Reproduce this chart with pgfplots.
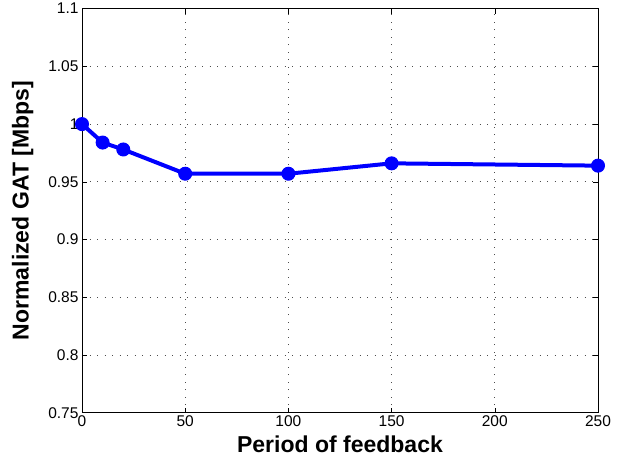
\documentclass[border=0pt]{standalone}
\usepackage{pgfplots}
\pgfplotsset{compat=1.18}
\usetikzlibrary{calc}
\usepackage{fontspec}
\setmainfont{Liberation Sans}
\definecolor{mblue}{RGB}{0,0,255}
\begin{document}
\begin{tikzpicture}
\begin{axis}[
  name=ax,
  scale only axis,
  width=516pt, height=404pt,
  xmin=0, xmax=250, ymin=0.75, ymax=1.1,
  xtick={0,50,100,150,200,250},
  ytick={0.75,0.8,0.85,0.9,0.95,1,1.05,1.1},
  yticklabels={0.75,0.8,0.85,0.9,0.95,1,1.05,1.1},
  tick align=inside,
  tick pos=both,
  major tick length=5pt,
  grid=major,
  major grid style={black!70, line width=0.9pt, dash pattern=on 1pt off 6.5pt},
  axis line style={black, line width=0.9pt},
  tick style={black, line width=0.6pt},
  /pgf/number format/assume math mode=true,
  ticklabel style={font=\fontsize{15.5}{18}\selectfont},
  xticklabel style={yshift=1pt},
  xlabel={\textbf{Period of feedback}},
  ylabel={\textbf{Normalized GAT [Mbps]}},
  label style={font=\fontsize{23}{27}\selectfont},
  xlabel style={at={(axis description cs:0.5,0)}, anchor=north, yshift=-20pt},
  ylabel style={at={(axis description cs:0,0.5)}, anchor=south, yshift=45pt},
  clip=false,
]
\addplot[mblue, line width=4pt, mark=*, mark size=6.5pt, mark options={fill=mblue, draw=mblue, line width=1pt}]
coordinates {(0,1.0) (10,0.984) (20,0.978) (50,0.957) (100,0.957) (150,0.966) (250,0.964)};
\end{axis}
\useasboundingbox ($(ax.south west)+(-82pt,-52pt)$) rectangle ($(ax.north east)+(27pt,8pt)$);
\end{tikzpicture}
\end{document}
